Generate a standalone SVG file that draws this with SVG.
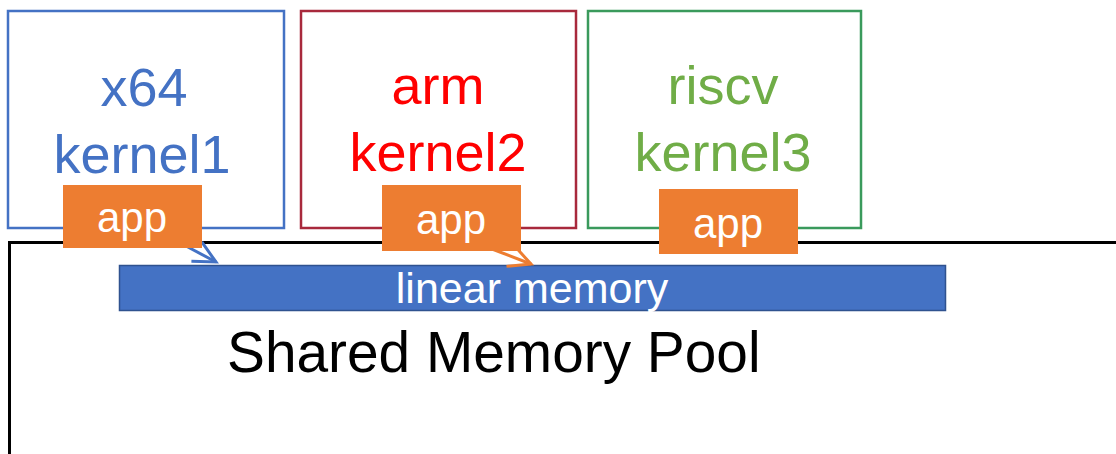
<svg xmlns="http://www.w3.org/2000/svg" width="1116" height="454" viewBox="0 0 1116 454">
<style>
.kbox{fill:#fff;stroke-width:2.5}
.ktxt{font-family:"Liberation Sans",Arial,sans-serif;font-size:54px;text-anchor:middle}
.app rect{fill:#ED7D31}
.app text{font-family:"Liberation Sans",Arial,sans-serif;font-size:42px;fill:#fff;text-anchor:middle}
.lbl{font-family:"Liberation Sans",Arial,sans-serif}
</style>
<defs>
<marker id="ahB" markerUnits="userSpaceOnUse" markerWidth="30" markerHeight="30" viewBox="-26 -15 30 30" refX="0" refY="0" orient="auto">
<path d="M-22,-11 L0,0 L-22,11" fill="none" stroke="#4472C4" stroke-width="3"/>
</marker>
<marker id="ahO" markerUnits="userSpaceOnUse" markerWidth="30" markerHeight="30" viewBox="-26 -15 30 30" refX="0" refY="0" orient="auto">
<path d="M-22,-11 L0,0 L-22,11" fill="none" stroke="#ED7D31" stroke-width="3"/>
</marker>
</defs>
<rect width="1116" height="454" fill="#fff"/>
<g id="pool">
<path d="M9.5 454 V242.5 H1116" fill="none" stroke="#000" stroke-width="3"/>
<text class="lbl" x="227" y="372" font-size="56.8" fill="#000">Shared Memory Pool</text>
</g>
<g id="kernel1">
<rect class="kbox" x="8" y="11" width="276" height="217" stroke="#4472C4"/>
<text class="ktxt" x="144" y="106" font-size="56" fill="#4472C4">x64</text>
<text class="ktxt" x="142" y="173" fill="#4472C4">kernel1</text>
</g>
<g id="kernel2">
<rect class="kbox" x="301" y="11" width="275" height="217" stroke="#A8293C"/>
<text class="ktxt" x="438" y="104" fill="#FF0000">arm</text>
<text class="ktxt" x="438" y="171" fill="#FF0000">kernel2</text>
</g>
<g id="kernel3">
<rect class="kbox" x="588" y="11" width="273" height="217" stroke="#3A9A5C"/>
<text class="ktxt" x="723" y="104" fill="#70AD47">riscv</text>
<text class="ktxt" x="723" y="171" fill="#70AD47">kernel3</text>
</g>
<g id="linear-memory">
<rect x="119.5" y="265.5" width="826" height="45" fill="#4472C4" stroke="#2F528F" stroke-width="1.5"/>
<text class="lbl" x="532" y="303" font-size="43" fill="#fff" text-anchor="middle">linear memory</text>
</g>
<g id="connectors">
<line x1="186" y1="246" x2="216" y2="262" stroke="#4472C4" stroke-width="3" marker-end="url(#ahB)"/>
<line x1="492" y1="249" x2="531" y2="264" stroke="#ED7D31" stroke-width="3" marker-end="url(#ahO)"/>
</g>
<g id="app1" class="app">
<rect x="63" y="185" width="139" height="63"/>
<text x="132" y="232">app</text>
</g>
<g id="app2" class="app">
<rect x="382" y="185" width="139" height="66"/>
<text x="451" y="234">app</text>
</g>
<g id="app3" class="app">
<rect x="659" y="189" width="139" height="65"/>
<text x="728" y="238">app</text>
</g>
</svg>
